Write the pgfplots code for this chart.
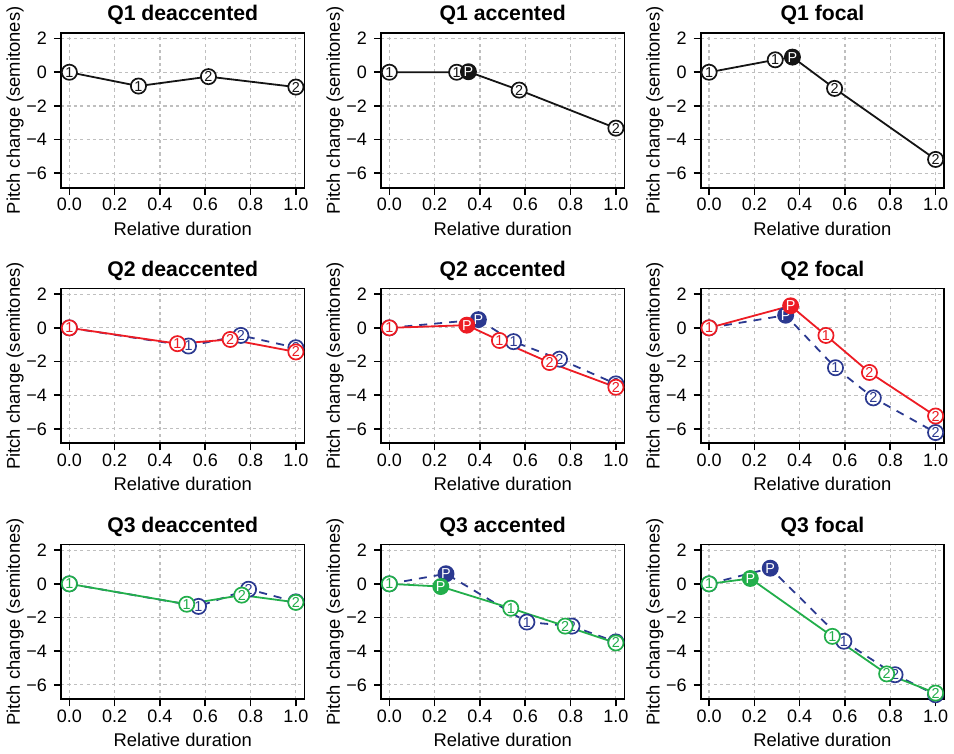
\documentclass[border=0pt]{standalone}
\usepackage{fontspec}
\setmainfont{Liberation Sans}
\usepackage{pgfplots}
\pgfplotsset{compat=1.18}
\definecolor{cR}{RGB}{237,28,36}
\definecolor{cB}{RGB}{43,57,144}
\definecolor{cG}{RGB}{34,174,75}
\definecolor{cK}{RGB}{20,20,20}
\tikzset{
 mk/.style={circle, draw=#1, fill=white, text=#1, line width=0.85pt, inner sep=0pt, minimum size=7.6pt, font=\fontsize{7.2}{7.2}\selectfont, anchor=center},
 mkP/.style={circle, draw=#1, fill=#1, text=white, line width=0.85pt, inner sep=0pt, minimum size=7.6pt, font=\fontsize{7.2}{7.2}\selectfont, anchor=center},
}
\pgfplotsset{
 panel/.style={
  scale only axis, width=121.75pt, height=77.4pt, anchor=south west,
  xmin=-0.037, xmax=1.038, ymin=-6.86, ymax=2.34,
  xtick={0,0.2,0.4,0.6,0.8,1}, xticklabels={0.0,0.2,0.4,0.6,0.8,1.0},
  ytick={-6,-4,-2,0,2}, yticklabels={−6,−4,−2,0,2},
  tick align=outside, tick pos=left, major tick length=3.5pt,
  tick style={black, line width=0.8pt},
  axis line style={line width=0.9pt},
  grid=major, major grid style={black!25, line width=0.6pt, dash pattern=on 1.6pt off 1.6pt},
  ticklabel style={font=\fontsize{9}{10}\selectfont},
  xticklabel style={inner sep=1.5pt},
  xlabel={Relative duration}, ylabel={Pitch change (semitones)},
  every axis x label/.style={at={(axis description cs:0.5,-0.265)}, anchor=center, font=\fontsize{9.2}{10}\selectfont},
  every axis y label/.style={at={(axis description cs:-0.188,0.5)}, anchor=center, rotate=90, font=\fontsize{9.2}{10}\selectfont},
  every axis title/.style={at={(axis description cs:0.5,1)}, anchor=base, yshift=6.2pt, font=\bfseries\fontsize{10.6}{12}\selectfont},
 },
 ln/.style={color=#1, line width=0.9pt, mark=none},
 dln/.style={color=#1, line width=0.9pt, mark=none, dash pattern=on 4pt off 3.5pt},
 nums/.style={draw=none, mark=none, point meta=explicit symbolic, nodes near coords={\pgfplotspointmeta}, nodes near coords style={mk=#1}},
 pk/.style={draw=none, mark=none, point meta=explicit symbolic, nodes near coords={\pgfplotspointmeta}, nodes near coords style={mkP=#1}},
}
\begin{document}
\begin{tikzpicture}
\useasboundingbox (0,0) rectangle (477pt,377pt);
% ---------------- Row 1 ----------------
\begin{axis}[panel, at={(30.5pt,283.15pt)}, title={Q1 deaccented}]
\addplot[ln=cK] coordinates {(0,0) (0.305,-0.82) (0.614,-0.26) (1,-0.88)};
\addplot[nums=cK] coordinates {(0,0)[1] (0.305,-0.82)[1] (0.614,-0.26)[2] (1,-0.88)[2]};
\end{axis}
\begin{axis}[panel, at={(190.5pt,283.15pt)}, title={Q1 accented}]
\addplot[ln=cK] coordinates {(0,0) (0.297,0) (0.349,0.03) (0.573,-1.06) (1,-3.32)};
\addplot[nums=cK] coordinates {(0,0)[1] (0.297,0)[1] (0.573,-1.06)[2] (1,-3.32)[2]};
\addplot[pk=cK] coordinates {(0.349,0.03)[P]};
\end{axis}
\begin{axis}[panel, at={(350.35pt,283.15pt)}, title={Q1 focal}]
\addplot[ln=cK] coordinates {(0,0) (0.292,0.74) (0.368,0.9) (0.554,-0.96) (1,-5.18)};
\addplot[nums=cK] coordinates {(0,0)[1] (0.292,0.74)[1] (0.554,-0.96)[2] (1,-5.18)[2]};
\addplot[pk=cK] coordinates {(0.368,0.9)[P]};
\end{axis}
% ---------------- Row 2 ----------------
\begin{axis}[panel, at={(30.5pt,155.35pt)}, title={Q2 deaccented}]
\addplot[dln=cB] coordinates {(0,0) (0.526,-1.08) (0.757,-0.45) (1,-1.18)};
\addplot[nums=cB] coordinates {(0,0)[1] (0.526,-1.08)[1] (0.757,-0.45)[2] (1,-1.18)[2]};
\addplot[ln=cR] coordinates {(0,0) (0.477,-0.94) (0.71,-0.69) (1,-1.43)};
\addplot[nums=cR] coordinates {(0,0)[1] (0.477,-0.94)[1] (0.71,-0.69)[2] (1,-1.43)[2]};
\end{axis}
\begin{axis}[panel, at={(190.5pt,155.35pt)}, title={Q2 accented}]
\addplot[dln=cB] coordinates {(0,0) (0.393,0.49) (0.548,-0.82) (0.751,-1.86) (1,-3.33)};
\addplot[nums=cB] coordinates {(0,0)[1] (0.548,-0.82)[1] (0.751,-1.86)[2] (1,-3.33)[2]};
\addplot[pk=cB] coordinates {(0.393,0.49)[P]};
\addplot[ln=cR] coordinates {(0,0) (0.342,0.16) (0.486,-0.75) (0.707,-2.06) (1,-3.53)};
\addplot[nums=cR] coordinates {(0,0)[1] (0.486,-0.75)[1] (0.707,-2.06)[2] (1,-3.53)[2]};
\addplot[pk=cR] coordinates {(0.342,0.16)[P]};
\end{axis}
\begin{axis}[panel, at={(350.35pt,155.35pt)}, title={Q2 focal}]
\addplot[dln=cB] coordinates {(0,0) (0.338,0.75) (0.558,-2.37) (0.725,-4.16) (1,-6.22)};
\addplot[nums=cB] coordinates {(0,0)[1] (0.558,-2.37)[1] (0.725,-4.16)[2] (1,-6.22)[2]};
\addplot[pk=cB] coordinates {(0.338,0.75)[P]};
\addplot[ln=cR] coordinates {(0,0) (0.36,1.31) (0.516,-0.45) (0.708,-2.65) (1,-5.24)};
\addplot[nums=cR] coordinates {(0,0)[1] (0.516,-0.45)[1] (0.708,-2.65)[2] (1,-5.24)[2]};
\addplot[pk=cR] coordinates {(0.36,1.31)[P]};
\end{axis}
% ---------------- Row 3 ----------------
\begin{axis}[panel, at={(30.5pt,27.35pt)}, title={Q3 deaccented}]
\addplot[dln=cB] coordinates {(0,0) (0.57,-1.34) (0.791,-0.32) (1,-1.07)};
\addplot[nums=cB] coordinates {(0,0)[1] (0.57,-1.34)[1] (0.791,-0.32)[2] (1,-1.07)[2]};
\addplot[ln=cG] coordinates {(0,0) (0.518,-1.21) (0.761,-0.67) (1,-1.1)};
\addplot[nums=cG] coordinates {(0,0)[1] (0.518,-1.21)[1] (0.761,-0.67)[2] (1,-1.1)[2]};
\end{axis}
\begin{axis}[panel, at={(190.5pt,27.35pt)}, title={Q3 accented}]
\addplot[dln=cB] coordinates {(0,0) (0.25,0.6) (0.607,-2.27) (0.806,-2.51) (1,-3.45)};
\addplot[nums=cB] coordinates {(0,0)[1] (0.607,-2.27)[1] (0.806,-2.51)[2] (1,-3.45)[2]};
\addplot[pk=cB] coordinates {(0.25,0.6)[P]};
\addplot[ln=cG] coordinates {(0,0) (0.227,-0.16) (0.536,-1.45) (0.776,-2.51) (1,-3.51)};
\addplot[nums=cG] coordinates {(0,0)[1] (0.536,-1.45)[1] (0.776,-2.51)[2] (1,-3.51)[2]};
\addplot[pk=cG] coordinates {(0.227,-0.16)[P]};
\end{axis}
\begin{axis}[panel, at={(350.35pt,27.35pt)}, title={Q3 focal}]
\addplot[dln=cB] coordinates {(0,0) (0.27,0.93) (0.595,-3.41) (0.821,-5.4) (1,-6.59)};
\addplot[nums=cB] coordinates {(0,0)[1] (0.595,-3.41)[1] (0.821,-5.4)[2] (1,-6.59)[2]};
\addplot[pk=cB] coordinates {(0.27,0.93)[P]};
\addplot[ln=cG] coordinates {(0,0) (0.182,0.32) (0.544,-3.12) (0.784,-5.35) (1,-6.49)};
\addplot[nums=cG] coordinates {(0,0)[1] (0.544,-3.12)[1] (0.784,-5.35)[2] (1,-6.49)[2]};
\addplot[pk=cG] coordinates {(0.182,0.32)[P]};
\end{axis}
\end{tikzpicture}
\end{document}
